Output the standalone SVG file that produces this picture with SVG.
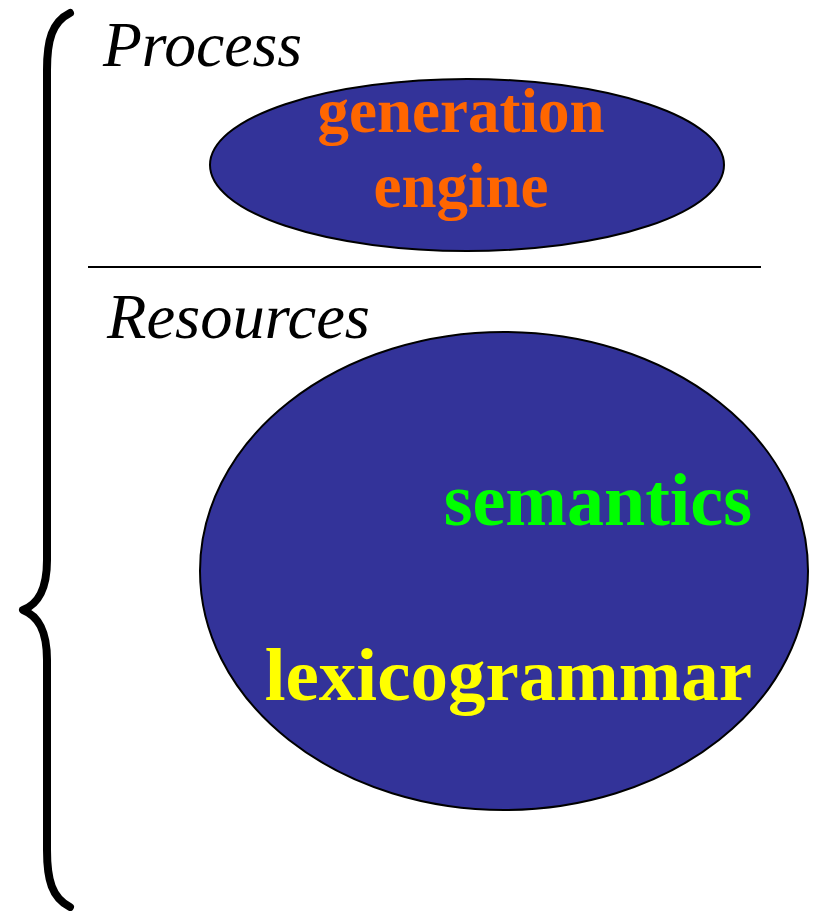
<svg xmlns="http://www.w3.org/2000/svg" width="814" height="911" viewBox="0 0 814 911">
<style>
.lbl{font-family:"Liberation Serif","Times New Roman",serif;font-style:italic;font-size:64px;fill:#000}
.bold{font-family:"Liberation Serif","Times New Roman",serif;font-weight:bold}
.node{fill:#333399;stroke:#000;stroke-width:2}
</style>
<rect width="814" height="911" fill="#fff"/>
<g id="brace">
<path d="M70,13 C52,22 47,40 47,70 L47,560 C47,590 38,604 23,610 C38,616 47,630 47,660 L47,850 C47,880 52,898 70,907" fill="none" stroke="#000" stroke-width="8" stroke-linecap="round" stroke-linejoin="round"/>
</g>
<g id="divider">
<line x1="88" y1="267" x2="761" y2="267" stroke="#000" stroke-width="2"/>
</g>
<text class="lbl" x="103" y="66" textLength="199" lengthAdjust="spacingAndGlyphs">Process</text>
<text class="lbl" x="107" y="338" textLength="263" lengthAdjust="spacingAndGlyphs">Resources</text>
<g id="generation-engine">
<ellipse class="node" cx="467" cy="165" rx="257" ry="86"/>
<text class="bold" x="461" y="132" font-size="63" fill="#FF6600" text-anchor="middle">generation</text>
<text class="bold" x="461" y="207" font-size="63" fill="#FF6600" text-anchor="middle">engine</text>
</g>
<g id="resources">
<ellipse class="node" cx="504" cy="571" rx="304" ry="239"/>
<text class="bold" x="752" y="525" font-size="74" fill="#00FF00" text-anchor="end">semantics</text>
<text class="bold" x="752" y="700" font-size="75" fill="#FFFF00" text-anchor="end">lexicogrammar</text>
</g>
<g id="connectors"></g>
</svg>
